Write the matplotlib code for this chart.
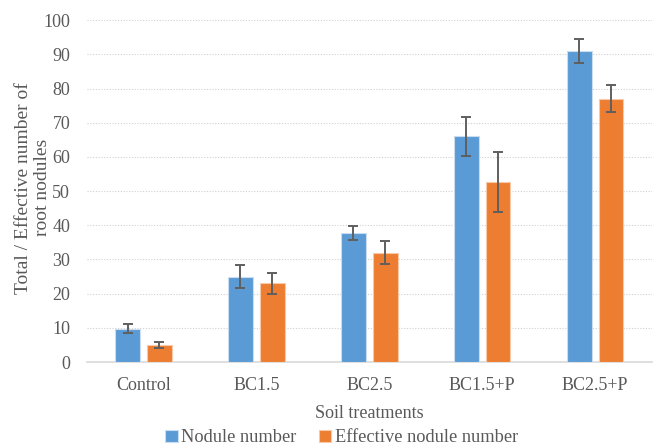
import numpy as np
import matplotlib.pyplot as plt

# soil treatments and nodule counts (mean, error)
treatments = ['Control', 'BC1.5', 'BC2.5', 'BC1.5+P', 'BC2.5+P']
nodule_number = [9.7, 25.0, 37.7, 66.0, 91.0]
nodule_err = [1.3, 3.3, 2.0, 5.7, 3.6]
effective_number = [5.0, 23.0, 32.0, 52.6, 77.0]
effective_err = [1.0, 3.1, 3.3, 8.8, 4.0]

plt.rcParams['font.family'] = ['Liberation Serif', 'DejaVu Serif']

fig = plt.figure(figsize=(6.53, 4.47), dpi=100)
ax = fig.add_axes([0.133, 0.19, 0.865, 0.765])

x = np.arange(len(treatments))
width = 0.22
gap = 0.03
err_style = dict(ecolor='#5f5f5f', elinewidth=1.4, capsize=3.5, capthick=1.4)

ax.bar(x - width / 2 - gap, nodule_number, width, yerr=nodule_err,
       color='#5B9BD5', edgecolor='#c9dcf0', linewidth=0.8,
       label='Nodule number', error_kw=err_style, zorder=3)
ax.bar(x + width / 2 + gap, effective_number, width, yerr=effective_err,
       color='#ED7D31', edgecolor='#f8c9a8', linewidth=0.8,
       label='Effective nodule number', error_kw=err_style, zorder=3)

ax.set_xlim(-0.5, len(treatments) - 0.5)
ax.set_ylim(0, 100)
ax.set_yticks(np.arange(0, 101, 10))
ax.set_xticks(x)
ax.set_xticklabels(treatments)

ax.yaxis.grid(True, linestyle=(0, (1, 1.5)), color='#d0d0d0', linewidth=0.8, zorder=0)
for side in ['top', 'right', 'left']:
    ax.spines[side].set_visible(False)
ax.spines['bottom'].set_color('#d9d9d9')
ax.spines['bottom'].set_linewidth(1.2)
ax.tick_params(axis='x', length=0, labelsize=13, colors='#595959', pad=11)
ax.tick_params(axis='y', length=0, labelsize=13, colors='#595959', pad=12)

ax.set_xlabel('Soil treatments', fontsize=13, color='#595959', labelpad=8)
ax.set_ylabel('Total / Effective number of\nroot nodules', fontsize=14,
              color='#595959', linespacing=1.15)
ax.yaxis.set_label_coords(-0.064, 0.51)

ax.legend(loc='center', bbox_to_anchor=(0.451, -0.222), ncol=2, frameon=False,
          fontsize=13.2, labelcolor='#595959', handlelength=0.7, handleheight=0.7,
          handletextpad=0.2, columnspacing=1.2, borderpad=0.1)

fig.savefig('out.png', dpi=100)
